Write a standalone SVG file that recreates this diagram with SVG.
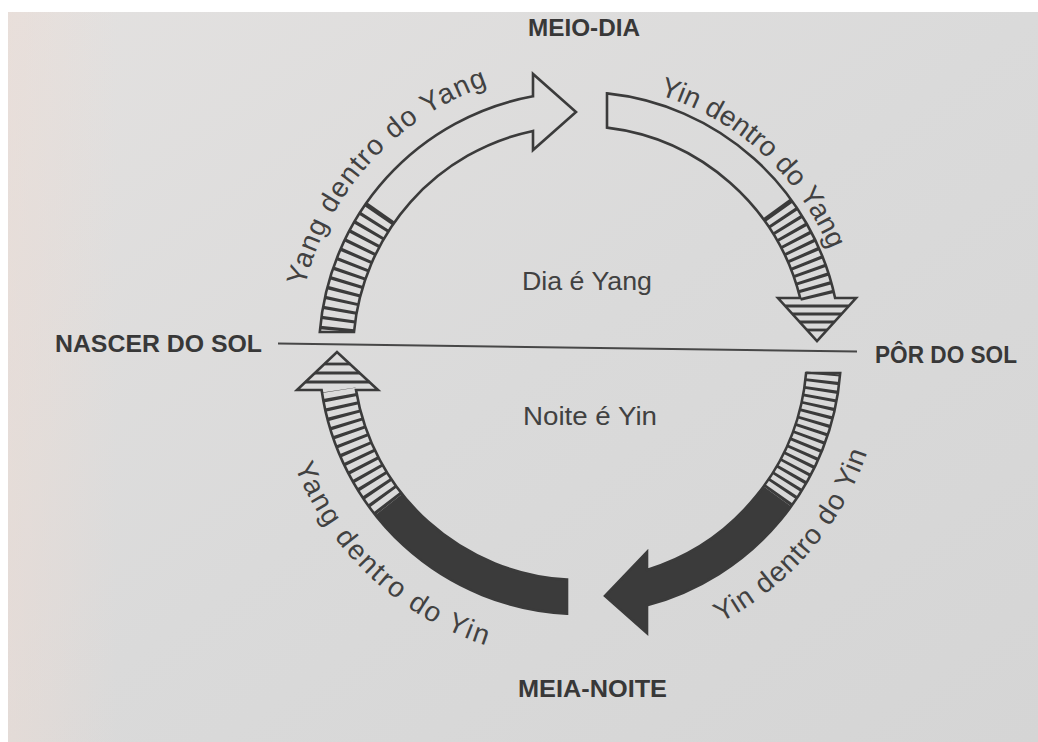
<svg xmlns="http://www.w3.org/2000/svg" width="1038" height="742" viewBox="0 0 1038 742">
<defs>
<linearGradient id="paper" x1="0" y1="0" x2="1" y2="1">
<stop offset="0" stop-color="#e3e1e0"/>
<stop offset="0.5" stop-color="#dadada"/>
<stop offset="1" stop-color="#d5d5d5"/>
</linearGradient>
<linearGradient id="edge" x1="0" y1="0" x2="1" y2="0">
<stop offset="0" stop-color="#efdcd3" stop-opacity="0.45"/>
<stop offset="1" stop-color="#efdcd3" stop-opacity="0"/>
</linearGradient>
<path id="t1" d="M 355.78 525.67 A 283 283 0 0 1 731.64 114.05"/>
<path id="t2" d="M 414.89 139.37 A 270 270 0 0 1 808.22 497.27"/>
<path id="t3" d="M 424.75 614.37 A 304 304 0 0 0 815.25 160.45"/>
<path id="t4" d="M 322.24 186.25 A 307 307 0 0 0 765.19 597.86"/>
</defs>
<style>
.ink{stroke:#3b3b3b;stroke-width:2.6;fill:none;stroke-linejoin:miter}
.dark{fill:#3b3b3b}
.hatch{fill:none;stroke:#3b3b3b;stroke-width:34}
.hl{stroke:#3b3b3b;stroke-width:2.8}
.lbl{font-family:"Liberation Sans",Arial,sans-serif;font-weight:bold;font-size:24px;fill:#383838}
.txt{font-family:"Liberation Sans",Arial,sans-serif;font-size:25px;fill:#414141}
.arc{font-family:"Liberation Sans",Arial,sans-serif;font-size:28px;fill:#414141}
</style>
<rect width="1038" height="742" fill="#ffffff"/>
<rect x="8" y="12" width="1030" height="730" fill="url(#paper)"/>
<rect x="8" y="12" width="110" height="730" fill="url(#edge)"/>

<g id="connectors">
<line x1="278" y1="343.5" x2="857" y2="351.5" stroke="#474747" stroke-width="2"/>
</g>

<g id="arrow-yang-dentro-do-yang">
<path class="hatch" d="M 380.13 213.05 A 244 244 0 0 0 336.9 332" stroke-dasharray="3.2 6.3"/>
<line class="hl" x1="394.05" y1="222.8" x2="366.2" y2="203.3"/>
<path class="ink" d="M 319.8 332 A 261 261 0 0 1 533 96.3 L 533 74 L 576 112 L 533 150 L 533 130.9 A 227 227 0 0 0 354 332 Z"/>
<text class="arc" letter-spacing="1.3"><textPath href="#t1" startOffset="50%" text-anchor="middle">Yang dentro do Yang</textPath></text>
</g>

<g id="arrow-yin-dentro-do-yang">
<path class="hatch" d="M 777.4 209.58 A 244 244 0 0 1 817.7 298" stroke-dasharray="3.2 5.3"/>
<line class="hl" x1="763.65" y1="219.57" x2="791.15" y2="199.59"/>
<line class="hl" x1="785.3" y1="306" x2="848.7" y2="306"/>
<line class="hl" x1="792.5" y1="314" x2="841.5" y2="314"/>
<line class="hl" x1="799.8" y1="322" x2="834.2" y2="322"/>
<line class="hl" x1="807" y1="330" x2="827" y2="330"/>
<path class="ink" d="M 607 93.4 A 261 261 0 0 1 835.1 298 L 856 298 L 817 341 L 778 298 L 800.2 298 A 227 227 0 0 0 607 127.6 Z"/>
<text class="arc" letter-spacing="0.1"><textPath href="#t2" startOffset="50%" text-anchor="middle">Yin dentro do Yang</textPath></text>
</g>

<g id="arrow-yin-dentro-do-yin">
<path class="dark" d="M 791.15 506.41 A 261 261 0 0 1 647 605.3 L 647 633 L 605 596 L 647 552 L 647 569.9 A 227 227 0 0 0 763.65 486.43 Z"/>
<path class="hatch" d="M 777.4 496.42 A 244 244 0 0 0 823.2 373" stroke-dasharray="3 5.2"/>
<path class="ink" d="M 840.2 373 A 261 261 0 0 1 647 605.3 L 647 633 L 605 596 L 647 552 L 647 569.9 A 227 227 0 0 0 806.1 373 Z"/>
<text class="arc" letter-spacing="1.1"><textPath href="#t3" startOffset="50%" text-anchor="middle">Yin dentro do Yin</textPath></text>
</g>

<g id="arrow-yang-dentro-do-yin">
<path class="dark" d="M 567 613.7 A 261 261 0 0 1 375.46 515.12 L 402.1 494 A 227 227 0 0 0 567 579.6 Z"/>
<path class="hatch" d="M 388.78 504.56 A 244 244 0 0 1 338.8 390" stroke-dasharray="3.2 5.8"/>
<line class="hl" x1="305.5" y1="382" x2="369.5" y2="382"/>
<line class="hl" x1="315" y1="373" x2="360" y2="373"/>
<line class="hl" x1="324.7" y1="364" x2="350.3" y2="364"/>
<path class="ink" d="M 567 613.7 A 261 261 0 0 1 321.6 390 L 297 390 L 337 352 L 378 390 L 356 390 A 227 227 0 0 0 567 579.6 Z"/>
<text class="arc" letter-spacing="2"><textPath href="#t4" startOffset="50%" text-anchor="middle">Yang dentro do Yin</textPath></text>
</g>

<g id="label-meio-dia"><text class="lbl" x="528" y="36" textLength="112" lengthAdjust="spacingAndGlyphs">MEIO-DIA</text></g>
<g id="label-nascer"><text class="lbl" x="55" y="352" textLength="207" lengthAdjust="spacingAndGlyphs">NASCER DO SOL</text></g>
<g id="label-por"><text class="lbl" x="875" y="363" textLength="142" lengthAdjust="spacingAndGlyphs">PÔR DO SOL</text></g>
<g id="label-meia-noite"><text class="lbl" x="518" y="697" textLength="149" lengthAdjust="spacingAndGlyphs">MEIA-NOITE</text></g>
<g id="label-dia"><text class="txt" x="522" y="290" textLength="130" lengthAdjust="spacingAndGlyphs">Dia é Yang</text></g>
<g id="label-noite"><text class="txt" x="523" y="425" textLength="134" lengthAdjust="spacingAndGlyphs">Noite é Yin</text></g>
</svg>
